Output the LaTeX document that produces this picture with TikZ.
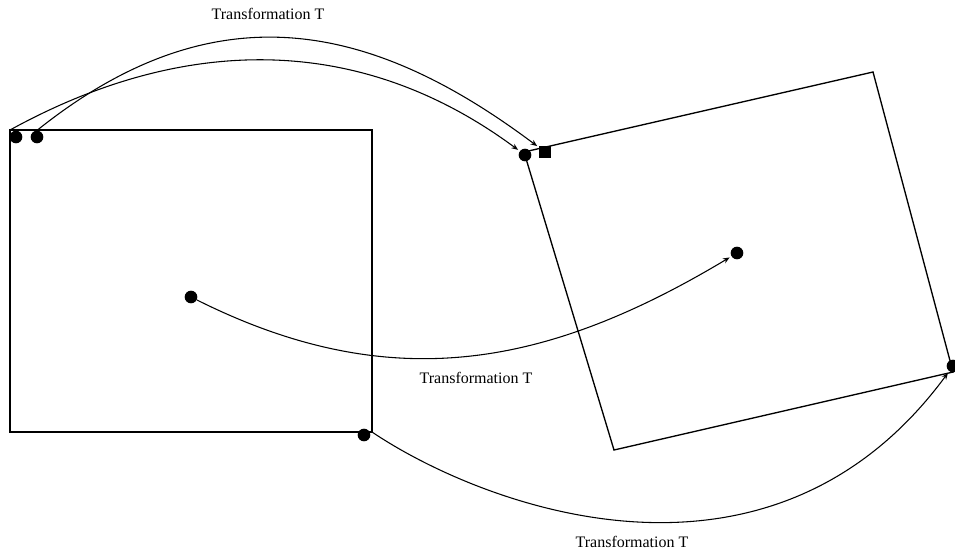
\documentclass[tikz,border=0pt]{standalone}
\usepackage{fontspec}
\setmainfont{Liberation Serif}
\usetikzlibrary{arrows.meta}
\begin{document}
\begin{tikzpicture}[x=0.75pt,y=-0.75pt,
  frame/.style={line width=1pt, line join=miter},
  blob/.style={circle, fill=black, inner sep=0pt, minimum size=9.5pt},
  sqblob/.style={rectangle, fill=black, inner sep=0pt, minimum size=9pt},
  mapping/.style={line width=0.8pt, shorten >=1.5pt,
    -{Stealth[open, length=5pt, width=4pt]}},
  caption/.style={font=\fontsize{12}{13}\selectfont, inner sep=0pt}]
\useasboundingbox (0,0) rectangle (955,551);

% original square
\coordinate (A1) at (10,130);
\coordinate (A2) at (372,130);
\coordinate (A3) at (372,432);
\coordinate (A4) at (10,432);
\draw[frame] (A1) -- (A2) -- (A3) -- (A4) -- cycle;

% transformed square
\coordinate (B1) at (524,152);
\coordinate (B2) at (873,72);
\coordinate (B3) at (953,372);
\coordinate (B4) at (614,450);
\draw[frame] (B1) -- (B2) -- (B3) -- (B4) -- cycle;

% marked points
\node[blob] (p1) at (16,137) {};
\node[blob] (p2) at (37,137) {};
\node[blob] (pc) at (191,297) {};
\node[blob] (p3) at (364,435) {};
\node[blob] (q1) at (525,155) {};
\node[sqblob] (q2) at (545,152) {};
\node[blob] (qc) at (737,253) {};
\node[blob] (q3) at (953,366) {};

% images under T
\draw[mapping] (A1) .. controls +(169,-93) and +(-169,-125) .. (q1);
\draw[mapping] (p2.north) .. controls +(176,-141) and +(-176,-132) .. (q2);
\draw[mapping] (pc) .. controls +(200,100) and +(-190,114) .. (qc);
\draw[mapping] (A3) .. controls +(110,74) and +(-184,250) .. (q3);

% labels
\node[caption] (t1) at (268,14) {Transformation T};
\node[caption] (t2) at (476,378) {Transformation T};
\node[caption] (t3) at (632,542) {Transformation T};
\end{tikzpicture}
\end{document}
